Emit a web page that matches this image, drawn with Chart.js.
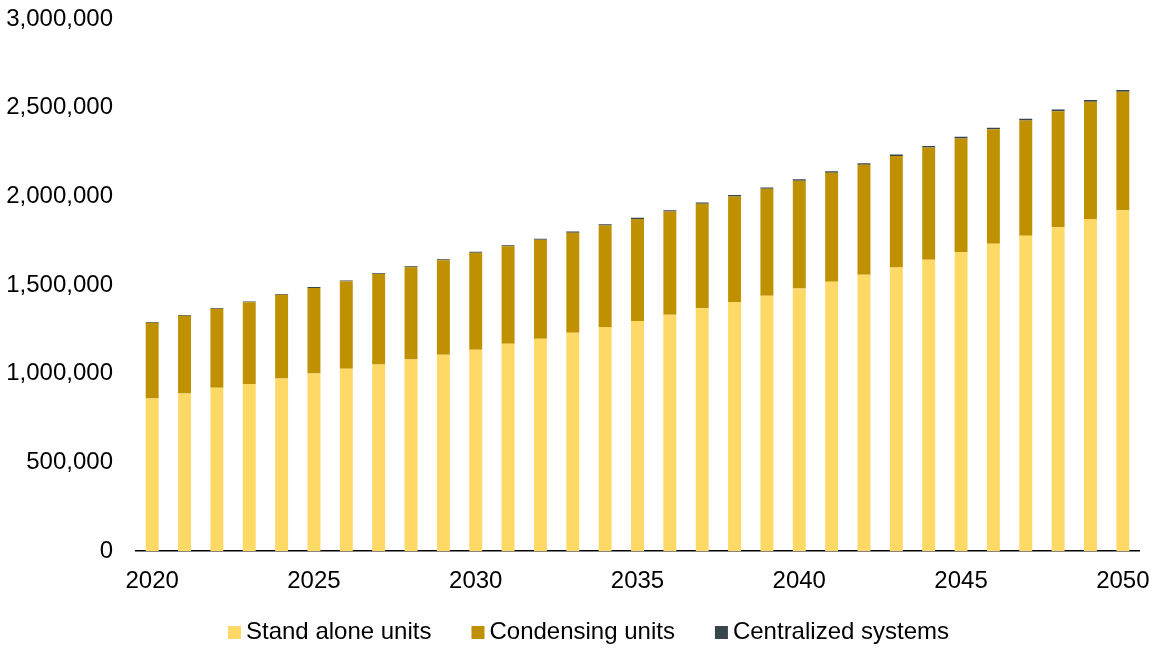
<!DOCTYPE html>
<html>
<head>
<meta charset="utf-8">
<script src="https://cdn.jsdelivr.net/npm/chart.js@4/dist/chart.umd.min.js"></script>
<style>
  html, body { margin: 0; padding: 0; background: #fff; }
  #wrap { width: 1157px; height: 648px; }
</style>
</head>
<body>
<div id="wrap"><canvas id="units"></canvas></div>
<script>
const years = []
for (let y = 2020; y <= 2050; y++) years.push(String(y))

// installed stock per year
const standAlone = [
    861000, 889000, 922000, 943000, 973000, 1001000, 1028000, 1052000, 1080000, 1108000,
    1136000, 1170000, 1198000, 1232000, 1264000, 1298000, 1333000, 1369000, 1405000, 1440000,
    1481000, 1519000, 1558000, 1599000, 1643000, 1686000, 1733000, 1778000, 1826000, 1873000,
    1922000
]
const condensing = [
    427000, 438000, 445000, 460000, 472000, 483000, 493000, 510000, 520000, 532000,
    546000, 549000, 557000, 563000, 572000, 575000, 582000, 589000, 595000, 603000,
    607000, 614000, 620000, 629000, 633000, 641000, 645000, 650000, 654000, 661000,
    668000
]
const centralized = [
    4000, 4200, 4400, 4600, 4800, 5000, 5200, 5400, 5600, 5800,
    6000, 6200, 6400, 6600, 6800, 7000, 7200, 7400, 7600, 7800,
    8000, 8200, 8400, 8600, 8800, 9000, 9200, 9400, 9600, 9800,
    10000
]

const yellow = "#ffd966", gold = "#bf9000", slate = "#37454d"
const font = { family: "'Liberation Sans', Arial, sans-serif", size: 24 }

Chart.defaults.font = font
Chart.defaults.color = "#000"

// one-row legend under the axis: small square, short gap, then the name
const legendRow = {
    id: "legendRow",
    afterDraw(chart) {
        const ctx = chart.ctx
        const box = 13, gap = 5, space = 40, y = 632
        ctx.save()
        ctx.font = `${font.size}px ${font.family}`
        ctx.textBaseline = "middle"
        const items = chart.data.datasets.map(d => ({
            text: d.label,
            color: d.backgroundColor,
            w: ctx.measureText(d.label).width
        }))
        const total = items.reduce((a, it) => a + box + gap + it.w, 0) + space * (items.length - 1)
        let x = chart.width / 2 + 10 - total / 2
        for (const it of items) {
            ctx.fillStyle = it.color
            ctx.fillRect(x, y - 6, box, box)
            ctx.fillStyle = "#000"
            ctx.fillText(it.text, x + box + gap, y)
            x += box + gap + it.w + space
        }
        ctx.restore()
    }
}

new Chart(document.getElementById("units"), {
    type: "bar",
    data: {
        labels: years,
        datasets: [
            { label: "Stand alone units", data: standAlone, backgroundColor: yellow },
            { label: "Condensing units", data: condensing, backgroundColor: gold },
            { label: "Centralized systems", data: centralized, backgroundColor: slate }
        ]
    },
    plugins: [legendRow],
    options: {
        responsive: true,
        maintainAspectRatio: false,
        animation: false,
        layout: { padding: { top: 19, right: 18, left: 0, bottom: 36 } },
        datasets: { bar: { categoryPercentage: 1, barPercentage: 0.4 } },
        plugins: {
            tooltip: { enabled: false },
            legend: { display: false }
        },
        scales: {
            x: {
                stacked: true,
                grid: { display: false, drawTicks: false },
                border: { display: true, color: "#000", width: 1.5 },
                ticks: {
                    autoSkip: false,
                    maxRotation: 0,
                    padding: 16,
                    callback: (v, i) => Number(years[i]) % 5 === 0 ? years[i] : ""
                },
                afterFit: s => { s.paddingLeft = 0; s.paddingRight = 0 }
            },
            y: {
                stacked: true,
                min: 0,
                max: 3000000,
                grid: { display: false, drawTicks: false },
                border: { display: false },
                ticks: {
                    stepSize: 500000,
                    padding: 23,
                    callback: v => v.toLocaleString("en-US")
                },
                afterFit: s => { s.width = 136; s.paddingTop = 0 }
            }
        }
    }
})
</script>
</body>
</html>
